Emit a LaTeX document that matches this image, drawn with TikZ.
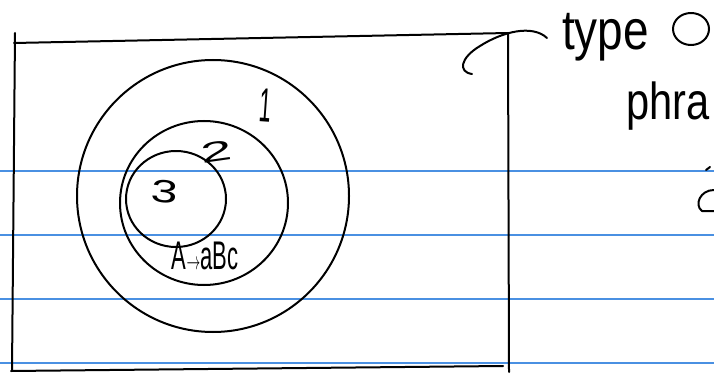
\documentclass[tikz,border=0pt]{standalone}
\usepackage{fontspec}
\setmainfont{Liberation Sans}
\definecolor{ruleblue}{RGB}{74,144,226}
\tikzset{
  ink/.style={draw=black, line width=2pt, line cap=round, line join=round},
  ruled/.style={draw=ruleblue, line width=1.4pt},
  hand/.style={inner sep=0pt, text=black}
}
\begin{document}
\begin{tikzpicture}[x=1pt,y=-1pt]
\clip (0,0) rectangle (714,374);
\fill[white] (0,0) rectangle (714,374);
% ruled paper lines
\foreach \yy in {171,235,299,363} \draw[ruled] (0,\yy) -- (714,\yy);
% frame
\draw[ink] (15,33) -- (12,371);
\draw[ink] (14,43) -- (508,33);
\draw[ink] (508,33) -- (509,372);
\draw[ink] (11,371) -- (503,366);
% circles
\draw[ink] (213,196) circle (136);
\draw[ink] (204,203) ellipse (84 and 82);
\draw[ink] (176,199) ellipse (50 and 48);
% labels
\node[hand, font=\fontsize{48}{48}\selectfont, rotate=-4] (l1) at (266,105) {\scalebox{0.45}[1]{1}};
\node[hand, font=\fontsize{28}{28}\selectfont, rotate=8] (l2) at (217,152) {\scalebox{2}[1]{2}};
\node[hand, font=\fontsize{32}{32}\selectfont, rotate=-5] (l3) at (165,192) {\scalebox{1.5}[1]{3}};
\node[hand, font=\fontsize{40}{40}\selectfont] (rule) at (205,256) {\scalebox{0.55}[1]{A$\rightarrow$aBc}};
% top-right hook
\draw[ink] (472,74) .. controls (458,72) and (460,58) .. (480,46) .. controls (502,32) and (532,24) .. (547,38);
% top-right text
\node[hand, anchor=base west, font=\fontsize{56}{56}\selectfont] (t0) at (562,50) {\scalebox{0.82}[1]{type}};
\draw[ink] (691,29) ellipse (18 and 16);
\node[hand, anchor=base west, font=\fontsize{52}{52}\selectfont] (phr) at (626,120) {\scalebox{0.8}[1]{phra}};
% partial letter bottom right
\draw[ink] (714,190) .. controls (700,190) and (694,205) .. (702,211) -- (714,211);
\draw[ink] (706,170) -- (710,167);
\end{tikzpicture}
\end{document}
